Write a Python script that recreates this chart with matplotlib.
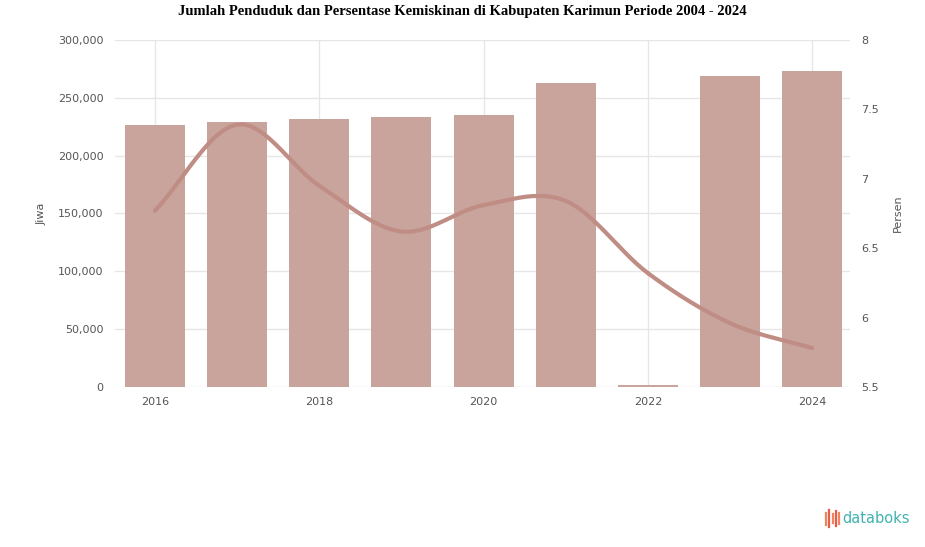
import numpy as np
import matplotlib
matplotlib.use("Agg")
import matplotlib.pyplot as plt

years = ["2016", "2017", "2018", "2019", "2020", "2021", "2022", "2023", "2024"]
penduduk = [226500, 229000, 231500, 233500, 235000, 262500, 1500, 269000, 273000]
kemiskinan = [6.77, 7.39, 6.95, 6.62, 6.81, 6.84, 6.32, 5.96, 5.78]
left_ticks = [0, 50000, 100000, 150000, 200000, 250000, 300000]
right_ticks = [5.5, 6, 6.5, 7, 7.5, 8]

bar_color = "#c9a49d"
line_color = "#c08d85"

fig = plt.figure(figsize=(9.25, 5.47), dpi=100)
ax = fig.add_axes([0.124, 0.2925, 0.795, 0.6345])
ax2 = ax.twinx()

x = np.arange(len(years))
ax.bar(x, penduduk, width=0.73, color=bar_color, zorder=2)
ax.set_ylim(0, 300000)
ax.set_xlim(-0.49, 8.46)
ax.set_yticks(left_ticks)
ax.set_yticklabels([f"{v:,}" for v in left_ticks])
ax.set_xticks(x[::2])
ax.set_xticklabels(years[::2])
ax.grid(True, color="#e6e6e6", linewidth=1, zorder=0)
ax.set_axisbelow(True)

# smooth line (Catmull-Rom through the read values)
def catmull(xs, ys, n=30):
    xs = np.asarray(xs, float); ys = np.asarray(ys, float)
    px = np.concatenate([[2*xs[0]-xs[1]], xs, [2*xs[-1]-xs[-2]]])
    py = np.concatenate([[2*ys[0]-ys[1]], ys, [2*ys[-1]-ys[-2]]])
    ox, oy = [], []
    for i in range(1, len(px)-2):
        t = np.linspace(0, 1, n)
        for arr, out in ((px, ox), (py, oy)):
            p0, p1, p2, p3 = arr[i-1], arr[i], arr[i+1], arr[i+2]
            out.extend(0.5*((2*p1) + (-p0+p2)*t + (2*p0-5*p1+4*p2-p3)*t**2 + (-p0+3*p1-3*p2+p3)*t**3))
    return np.array(ox), np.array(oy)

sx, sy = catmull(x, kemiskinan)
ax2.plot(sx, sy, color=line_color, linewidth=3, solid_capstyle="round", zorder=3)
ax2.set_ylim(5.5, 8)
ax2.set_yticks(right_ticks)
ax2.set_yticklabels(["5.5", "6", "6.5", "7", "7.5", "8"])

for a in (ax, ax2):
    for s in a.spines.values():
        s.set_visible(False)
    a.tick_params(length=0, colors="#555555", labelsize=8)
ax.tick_params(axis="y", pad=8)
ax2.tick_params(axis="y", pad=8)
ax.tick_params(axis="x", pad=7)

ax.set_ylabel("Jiwa", color="#555555", fontsize=8, labelpad=8)
ax2.set_ylabel("Persen", color="#555555", fontsize=8, labelpad=10)

fig.suptitle("Jumlah Penduduk dan Persentase Kemiskinan di Kabupaten Karimun Periode 2004 - 2024",
             fontfamily="Liberation Serif", fontweight="bold", fontsize=10.5, y=0.99)

fig.text(0.984, 0.052, "databoks", color="#3fb3b0", fontsize=10.5, ha="right", va="center",
         fontfamily="DejaVu Sans")
# small icon
for i, (h, c) in enumerate(zip([0.022, 0.032, 0.018, 0.028, 0.02],
                              ["#f0845c", "#e85d4a", "#f0845c", "#e85d4a", "#f0845c"])):
    xi = 0.893 + i*0.0036
    fig.add_artist(plt.Line2D([xi, xi], [0.052 - h/2, 0.052 + h/2],
                              color=c, linewidth=1.6, transform=fig.transFigure))

fig.savefig("out.png", dpi=100)
